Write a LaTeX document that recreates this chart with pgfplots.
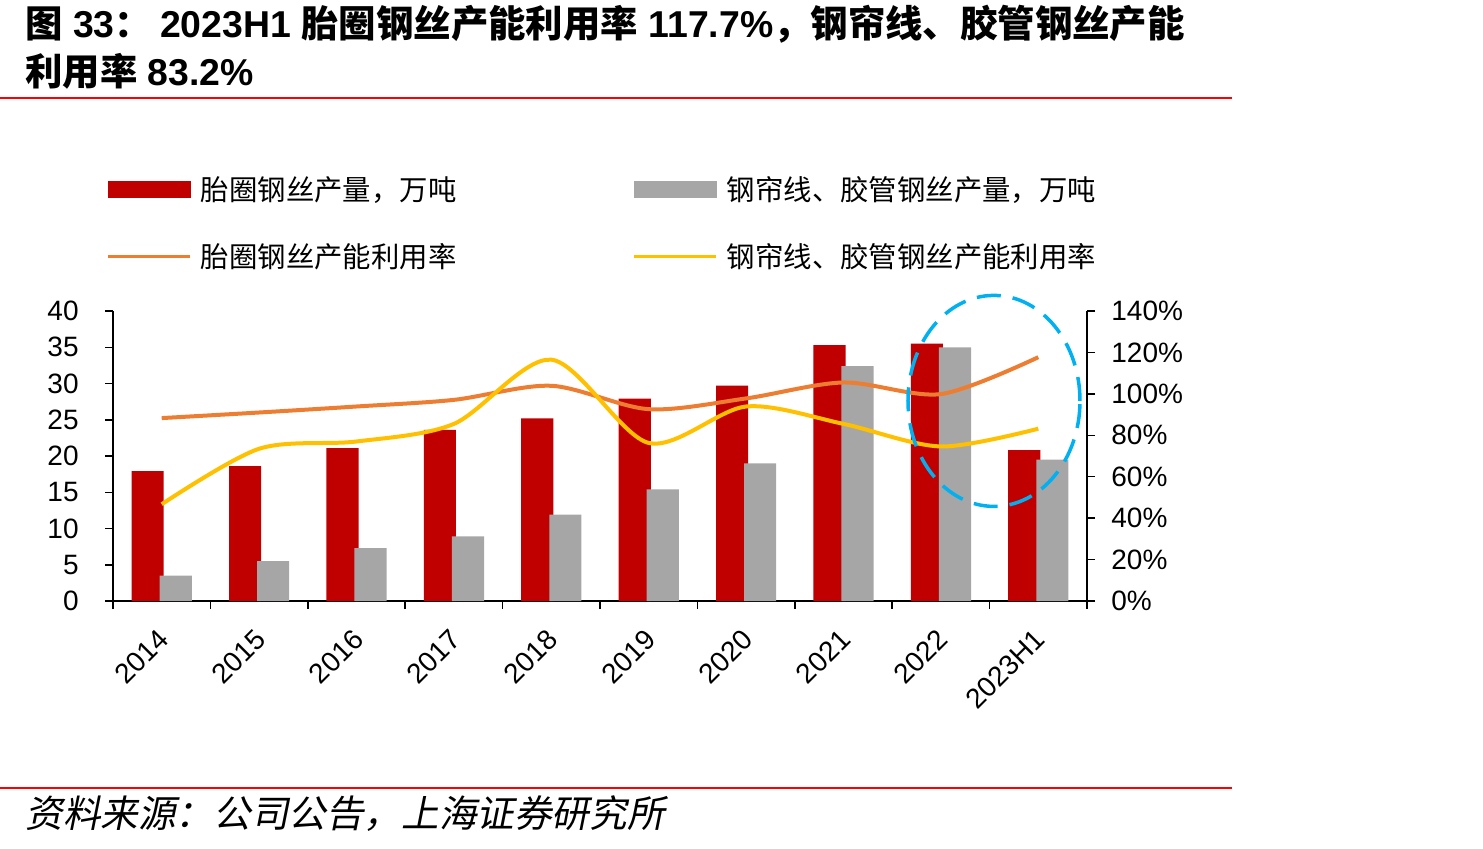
\documentclass[border=0pt]{standalone}
\usepackage{fontspec}
\usepackage{pgfplots}
\usepackage{pgfplotstable}
\pgfplotsset{compat=1.18}
\setmainfont{Liberation Sans}
\newfontfamily\cjk{Noto Sans CJK SC}
\newfontfamily\cjkit{Noto Sans CJK SC}[FakeSlant=0.2]

\definecolor{barred}{RGB}{192,0,0}
\definecolor{bargray}{RGB}{166,166,166}
\definecolor{lineorange}{RGB}{237,125,49}
\definecolor{lineyellow}{RGB}{255,192,0}
\definecolor{rulered}{RGB}{255,0,0}
\definecolor{markblue}{RGB}{0,176,240}

% x: category index (2014 ... 2023H1)
% bead / cord: output, 10k t; beadrate / cordrate: capacity utilisation, %
\pgfplotstableread{
x bead cord beadrate cordrate
0 17.9  3.5  88.3  46.7
1 18.6  5.5  91.0  73.5
2 21.1  7.3  93.9  77.0
3 23.6  8.9  97.1  85.5
4 25.2 11.9 103.9 116.5
5 27.9 15.4  92.6  76.3
6 29.7 19.0  97.8  93.9
7 35.3 32.4 105.5  85.5
8 35.5 35.0  99.9  74.6
9 20.8 19.5 117.7  83.2
}\prodtable

\pgfplotsset{
  commonaxis/.style={
    scale only axis, width=487pt, height=145pt,
    at={(56.5pt,123.5pt)}, anchor=south west,
    xmin=-0.5, xmax=9.5, clip=false,
    axis line style={black, line width=0.75pt, -},
    tick align=outside, major tick length=4pt,
    tick style={black, line width=0.75pt},
    tick label style={font=\fontsize{14}{16}\selectfont},
    /pgf/number format/assume math mode=true,
  },
}

\begin{document}
\begin{tikzpicture}
\useasboundingbox (0,0) rectangle (741.5pt,424pt);

% heading
\node[anchor=base west, inner sep=0pt, font=\fontsize{18.7}{20}\selectfont\bfseries]
  at (12.5pt,405pt) {{\cjk 图} 33{\cjk ：}\hspace{4pt}2023H1 {\cjk 胎圈钢丝产能利用率} 117.7\%{\cjk ，钢帘线、胶管钢丝产能}};
\node[anchor=base west, inner sep=0pt, font=\fontsize{18.7}{20}\selectfont\bfseries]
  at (12.5pt,381pt) {{\cjk 利用率} 83.2\%};
\draw[rulered, line width=1pt] (0pt,375pt) -- (616pt,375pt);

% bars: output
\begin{axis}[
  commonaxis,
  ymin=0, ymax=40,
  axis x line*=bottom, axis y line*=left,
  xtick={-0.5,0.5,...,9.5}, x tick label as interval,
  xticklabels={2014,2015,2016,2017,2018,2019,2020,2021,2022,2023H1},
  xticklabel style={xshift=1pt, yshift=-12.5pt, rotate=45, anchor=east, inner sep=0pt},
  ytick={0,5,...,40},
  yticklabel style={anchor=east, inner sep=0pt, xshift=-13pt},
]
\addplot[ybar, bar width=0.33, bar shift=-0.144, fill=barred, draw=none]
  table[x=x, y=bead] {\prodtable};
\addplot[ybar, bar width=0.33, bar shift=0.144, fill=bargray, draw=none]
  table[x=x, y=cord] {\prodtable};
\end{axis}

% lines: utilisation
\begin{axis}[
  commonaxis,
  ymin=0, ymax=140,
  axis x line=none, axis y line*=right,
  ytick={0,20,...,140},
  yticklabel={\pgfmathprintnumber{\tick}\%},
  yticklabel style={anchor=west, inner sep=0pt, xshift=8pt},
  legend columns=2,
  legend cell align=left,
  legend style={at={(axis description cs:-0.0072,1.303)}, anchor=west,
    draw=none, fill=none, inner sep=0pt, row sep=20pt,
    font=\cjk\fontsize{14.2}{15}\selectfont,
    nodes={inner sep=0pt},
    /tikz/every odd column/.append style={column sep=4.5pt},
    /tikz/every even column/.append style={column sep=88pt}},
]
\addlegendimage{legend image code/.code={\fill[barred] (0pt,-4pt) rectangle (41pt,4pt);}}
\addlegendentry{胎圈钢丝产量，万吨}
\addlegendimage{legend image code/.code={\fill[bargray] (0pt,-4pt) rectangle (41pt,4pt);}}
\addlegendentry{钢帘线、胶管钢丝产量，万吨}
\addplot[lineorange, line width=2pt, smooth, tension=0.5,
  legend image code/.code={\draw[lineorange, line width=1.75pt] (0pt,0pt) -- (41pt,0pt);}]
  table[x=x, y=beadrate] {\prodtable};
\addlegendentry{胎圈钢丝产能利用率}
\addplot[lineyellow, line width=2pt, smooth, tension=0.5,
  legend image code/.code={\draw[lineyellow, line width=1.75pt] (0pt,0pt) -- (41pt,0pt);}]
  table[x=x, y=cordrate] {\prodtable};
\addlegendentry{钢帘线、胶管钢丝产能利用率}
\draw[markblue, line width=1.75pt, dash pattern=on 12pt off 6pt]
  (axis cs:8.545,96.6) ellipse [x radius=43pt, y radius=52.75pt];
\end{axis}

% source
\draw[rulered, line width=1pt] (0pt,30pt) -- (616pt,30pt);
\node[anchor=base west, inner sep=0pt, font=\cjkit\fontsize{18.8}{20}\selectfont]
  at (12.5pt,10.5pt) {资料来源：公司公告，上海证券研究所};
\end{tikzpicture}
\end{document}
